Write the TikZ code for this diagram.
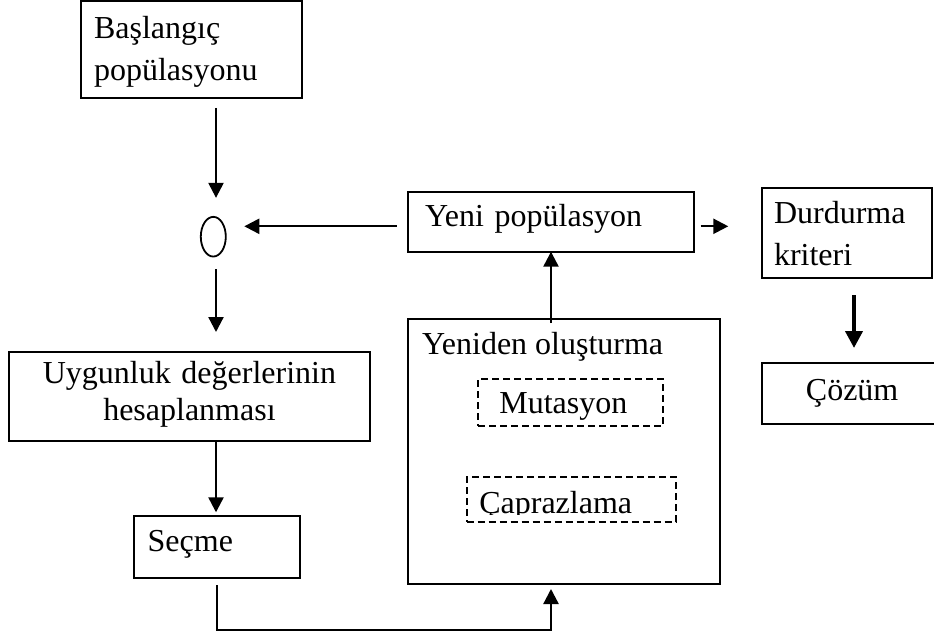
\documentclass[tikz,border=0pt]{standalone}
\usepackage{fontspec}
\setmainfont{Liberation Serif}
\usetikzlibrary{arrows.meta,shapes.geometric}
\begin{document}
\begin{tikzpicture}[x=1pt,y=-1pt,
  every node/.style={font=\fontsize{32}{41.7}\selectfont, inner sep=0pt, outer sep=0pt},
  box/.style={draw, line width=2pt, rectangle},
  dashbox/.style={draw, line width=1.8pt, dash pattern=on 7pt off 4pt},
  conn/.style={line width=2.3pt, -{Triangle[length=15pt,width=15pt]}},
  thickconn/.style={line width=4pt, -{Triangle[length=17pt,width=17pt]}},
]
\fill[white] (0,0) rectangle (934,639);
\useasboundingbox (0,0) rectangle (934,639);

% guide lines for the connectors
\coordinate (col) at (216,0);
\coordinate (row) at (0,226.3);
\coordinate (low) at (0,630);
\coordinate (stopcol) at (854,0);
\coordinate (cut) at (0,514.8);

% boxes
\node[box, minimum width=220.7pt, minimum height=97.3pt, text width=194.7pt, align=left,
      text height=24pt, text depth=45.9pt] (bas) at (191.35,49.65) {Başlangıç\\popülasyonu};
\node[ellipse, draw, line width=1.8pt, minimum width=25pt, minimum height=39.7pt] (ell) at (213.3,236.7) {};
\node[box, minimum width=286.6pt, minimum height=60pt, text width=252pt, align=left,
      text height=10pt, text depth=0pt] (yeni) at (551,221.7) {Yeni popülasyon};
\node[box, minimum width=170pt, minimum height=89.4pt, text width=145.4pt, align=left,
      text height=21pt, text depth=39.4pt] (durd) at (846.7,233) {Durdurma\\kriteri};
\node[box, minimum width=179.7pt, minimum height=61pt, text width=150pt, align=center,
      text height=12.4pt, text depth=0pt] (cozum) at (852.15,393.8) {Çözüm};
\node[box, minimum width=360.3pt, minimum height=89.3pt, text width=340pt, align=center,
      text height=20pt, text depth=46.1pt, font=\fontsize{32}{36.7}\selectfont]
      (uyg) at (189.45,396.35) {Uygunluk değerlerinin\\hesaplanması};
\node[box, minimum width=166pt, minimum height=61.7pt, text width=138.6pt, align=left,
      text height=9.7pt, text depth=0pt] (secme) at (217,546.85) {Seçme};

% recombination block with its two operators
\node[box, minimum width=312pt, minimum height=264.5pt] (yenid) at (563.5,451.25) {};
\node[anchor=base west] (yenidt) at (422,354) {Yeniden oluşturma};
\node[dashbox, minimum width=185pt, minimum height=46.7pt, text width=143pt, align=left,
      text height=21.9pt, text depth=0pt] (mut) at (570.8,402.35) {Mutasyon};
\node[dashbox, minimum width=209pt, minimum height=45pt] (capr) at (571.2,499.8) {};
\begin{scope}
  \clip (capr.north west) rectangle (capr.east |- cut);
  \node[anchor=base west] (caprt) at (479.3,513.3) {Çaprazlama};
\end{scope}

% connectors
\draw[conn, shorten <=9.7pt, shorten >=19pt] (bas.south -| col) -- (ell.north -| col);
\draw[conn, shorten <=12.7pt, shorten >=19.7pt] (ell.south -| col) -- (uyg.north -| col);
\draw[conn, shorten >=3.7pt] (uyg.south -| col) -- (secme.north -| col);
\draw[conn, shorten <=7.3pt, shorten >=5.5pt] (secme.south) -- (secme.south |- low) -| (yenid.south -| yeni.south);
\draw[conn, shorten <=-4pt] (yenid.north -| yeni.south) -- (yeni.south);
\draw[conn, shorten <=11pt, shorten >=18.5pt] (yeni.west |- row) -- (ell.east |- row);
\draw[conn, shorten <=6.4pt, shorten >=33.4pt] (yeni.east |- row) -- (durd.west |- row);
\draw[thickconn, shorten <=17.3pt, shorten >=15.3pt] (durd.south -| stopcol) -- (cozum.north -| stopcol);
\end{tikzpicture}
\end{document}
